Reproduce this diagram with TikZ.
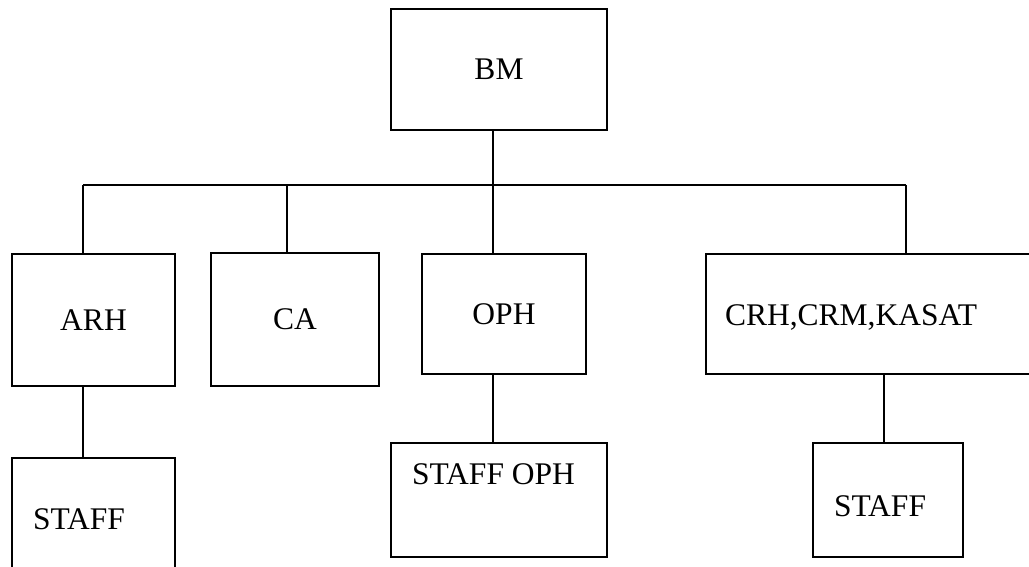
\documentclass[tikz,border=0pt]{standalone}
\usepackage{fontspec}
\setmainfont{Liberation Serif}
\begin{document}
\begin{tikzpicture}[x=1pt,y=-1pt,
  box/.style={draw=black,line width=1.6pt,inner sep=0pt,outer sep=0pt,rectangle},
  lbl/.style={inner sep=0pt,outer sep=0pt,anchor=base west},
  conn/.style={draw=black,line width=1.6pt},
  every node/.style={font=\fontsize{31.5}{36}\selectfont}]
\useasboundingbox (0,0) rectangle (1029,567);
\clip (0,0) rectangle (1029,567);
\fill[white] (0,0) rectangle (1029,567);
% boxes
\node[box,minimum width=216pt,minimum height=121pt] (bm) at (499,69.5) {BM};
\node[box,minimum width=163pt,minimum height=132pt] (arh) at (93.5,320) {ARH};
\node[box,minimum width=168pt,minimum height=133pt] (ca) at (295,319.5) {CA};
\node[box,minimum width=164pt,minimum height=120pt] (oph) at (504,314) {OPH};
\node[box,minimum width=325pt,minimum height=120pt] (crh) at (868.5,314) {};
\node[box,minimum width=163pt,minimum height=122pt] (arhstaff) at (93.5,519) {};
\node[box,minimum width=216pt,minimum height=114pt] (ophstaff) at (499,500) {};
\node[box,minimum width=150pt,minimum height=114pt] (crhstaff) at (888,500) {};
% texts
\node[lbl] (crhtext) at (725,325) {CRH,CRM,KASAT};
\node[lbl] (arhstafftext) at (33,529) {STAFF};
\node[lbl] (ophstafftext) at (412,484) {STAFF OPH};
\node[lbl] (crhstafftext) at (834,516) {STAFF};
% connectors
\coordinate (jl) at (83,185);
\coordinate (jc) at (287,185);
\coordinate (jm) at (493,185);
\coordinate (jr) at (906,185);
\coordinate (lc) at (884,185);
\draw[conn] (jl) -- (jr);
\draw[conn] (jm |- bm.south) -- (jm |- oph.north);
\draw[conn] (jl) -- (jl |- arh.north);
\draw[conn] (jc) -- (jc |- ca.north);
\draw[conn] (jr) -- (jr |- crh.north);
\draw[conn] (jl |- arh.south) -- (jl |- arhstaff.north);
\draw[conn] (jm |- oph.south) -- (jm |- ophstaff.north);
\draw[conn] (lc |- crh.south) -- (lc |- crhstaff.north);
\end{tikzpicture}
\end{document}
